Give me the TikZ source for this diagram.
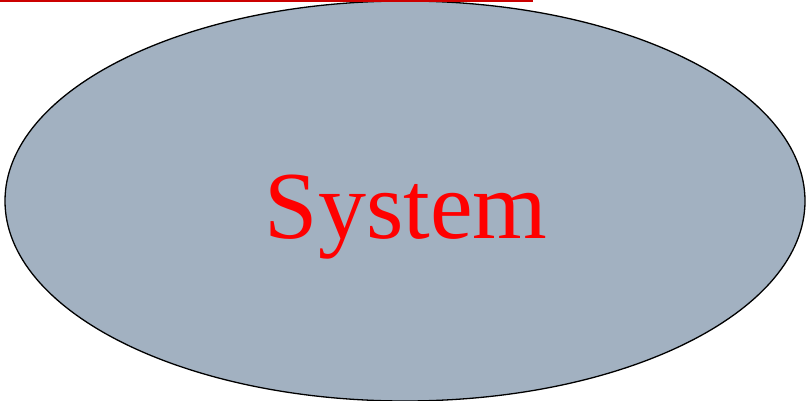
\documentclass[tikz,border=0pt]{standalone}
\usepackage{fontspec}
\setmainfont{Liberation Serif}
\usetikzlibrary{shapes.geometric}
\definecolor{sysfill}{RGB}{162,177,193}
\definecolor{topred}{RGB}{204,0,0}
\begin{document}
\begin{tikzpicture}[x=1pt,y=1pt,
  sysellipse/.style={ellipse,draw=black,line width=1.3pt,fill=sysfill,minimum width=800pt,minimum height=400pt,inner sep=0pt},
  systext/.style={text=red,font=\fontsize{96}{100}\selectfont,inner sep=0pt,anchor=base}]
\useasboundingbox (0,0) rectangle (808,400);
\node[sysellipse] (sys) at (405,199) {};
\node[systext] (label) at (406,162) {System};
\coordinate (rl) at (0,399);
\coordinate (rr) at (533,399);
\draw[topred,line width=2.5pt] (rl) -- (rr);
\end{tikzpicture}
\end{document}
